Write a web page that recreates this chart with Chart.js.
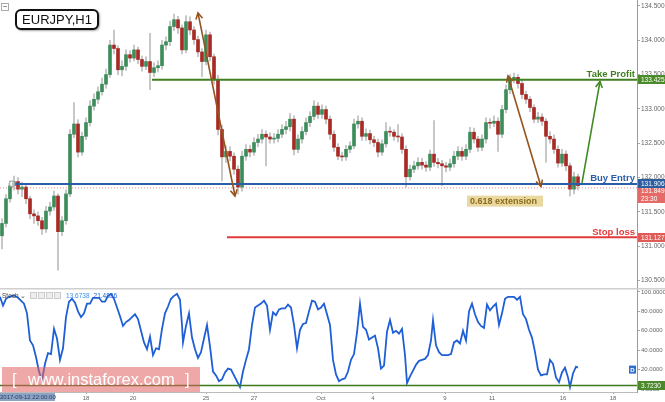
<!DOCTYPE html>
<html>
<head>
<meta charset="utf-8">
<script src="https://cdn.jsdelivr.net/npm/chart.js@4.4.1/dist/chart.umd.min.js"></script>
<style>
html, body { margin: 0; padding: 0; background: #fff; overflow: hidden; }
#wrap { position: relative; width: 665px; height: 402px; font-family: "Liberation Sans", Arial, sans-serif; }
canvas { position: absolute; left: 0; }
#priceCanvas { top: 0; }
#stochCanvas { top: 288px; }
.ov { position: absolute; white-space: nowrap; }
#collapse { left: 1px; top: 3px; width: 6px; height: 6px; border: 1px solid #aaa; }
#collapse:after { content: ""; position: absolute; left: 1px; top: 2px; width: 4px; height: 1px; background: #999; }
#title { left: 15px; top: 9px; width: 80px; height: 17px; border: 2px solid #111; border-radius: 6px; background: #fff;
         font-size: 13px; line-height: 17px; text-align: center; color: #111; box-shadow: 1px 1px 2px rgba(0,0,0,.35); }
#legend { left: 2px; top: 292px; font-size: 6.5px; line-height: 8px; color: #444; }
#legend .ic { display: inline-block; width: 5px; height: 5px; border: 1px solid #ccc; background: #eee; margin-right: 1px; vertical-align: -1px; }
#legend .v1 { color: #3b8fe8; margin-left: 4px; }
#legend .v2 { color: #1f5fd6; margin-left: 4px; }
#dateBox { left: 0; top: 393px; width: 55px; height: 8px; background: #8ea3c4; color: #25406b; font-size: 6px; line-height: 8px; text-align: center; }
#watermark { left: 2px; top: 367px; width: 198px; height: 25px; background: rgba(226, 96, 96, 0.55); color: #fff;
             font-size: 16.5px; line-height: 25px; }
#watermark span { position: absolute; top: 0; }
</style>
</head>
<body>
<div id="wrap">
  <canvas id="priceCanvas" width="665" height="288"></canvas>
  <canvas id="stochCanvas" width="665" height="114"></canvas>
  <div class="ov" id="collapse"></div>
  <div class="ov" id="title">EURJPY,H1</div>
  <div class="ov" id="legend">Stoch&nbsp;&#8964;&nbsp;&nbsp;<span class="ic"></span><span class="ic"></span><span class="ic"></span><span class="ic"></span><span class="v1">13.6738</span><span class="v2">21.4836</span></div>
  <div class="ov" id="dateBox">2017-09-12 22:00:00</div>
  <div class="ov" id="watermark"><span style="left:10px">[</span><span style="left:26px">www.instaforex.com</span><span style="left:183px">]</span></div>
</div>
<script>
// ---- data (EURJPY H1, compressed to 4-hour candles) ----
const BAR_HOURS = 4;
const START_OPEN = 131.15;
const closes = [
  131.33,131.69,131.88,131.94,131.83,131.86,131.69,131.47,131.44,131.37,
  131.25,131.51,131.57,131.73,131.21,131.37,131.76,132.63,132.78,132.37,
  132.60,132.80,133.04,133.14,133.25,133.36,133.50,133.93,133.88,133.57,
  133.62,133.79,133.74,133.86,133.72,133.62,133.69,133.53,133.60,133.63,
  133.93,133.98,134.20,134.30,134.18,133.86,134.27,134.15,134.01,133.83,
  133.69,134.08,133.76,133.43,132.70,132.30,132.38,132.31,132.12,131.86,
  132.31,132.41,132.37,132.51,132.56,132.63,132.59,132.56,132.57,132.63,
  132.70,132.74,132.85,132.41,132.56,132.67,132.80,132.89,133.04,132.92,
  132.99,132.85,132.63,132.44,132.31,132.30,132.41,132.46,132.78,132.82,
  132.60,132.64,132.55,132.51,132.37,132.49,132.67,132.66,132.60,132.59,
  132.41,132.01,132.12,132.17,132.22,132.18,132.15,132.34,132.22,132.20,
  132.17,132.15,132.20,132.31,132.38,132.31,132.41,132.66,132.56,132.44,
  132.56,132.80,132.79,132.82,132.63,132.99,133.28,133.43,133.46,133.37,
  133.21,133.14,133.02,132.85,132.88,132.82,132.60,132.56,132.41,132.21,
  132.34,132.17,131.83,132.01,131.88
];
const highs = [
  131.40,131.75,131.95,132.02,132.00,131.93,131.90,131.73,131.53,131.50,
  131.42,131.58,131.64,131.80,131.76,131.43,131.82,132.70,133.09,132.84,
  132.66,132.87,133.12,133.22,133.32,133.45,133.58,134.00,134.15,133.92,
  133.70,133.86,133.85,133.93,133.90,133.77,133.76,134.10,133.67,133.70,
  134.00,134.05,134.28,134.38,134.35,134.22,134.36,134.34,134.20,134.06,
  133.88,134.15,134.12,133.80,133.49,132.76,132.46,132.45,132.36,132.17,
  132.38,132.48,132.47,132.58,132.63,132.70,132.68,132.65,132.64,132.70,
  132.77,132.82,132.93,132.90,132.62,132.74,132.87,132.96,133.12,133.09,
  133.06,133.04,132.90,132.68,132.49,132.37,132.47,132.52,132.85,132.90,
  132.87,132.71,132.69,132.60,132.56,132.55,132.80,132.74,132.70,132.77,
  132.64,132.46,132.18,132.24,132.29,132.28,132.23,132.40,132.83,132.28,
  132.25,132.22,132.27,132.38,132.45,132.44,132.48,132.73,132.72,132.60,
  132.62,132.87,132.86,132.90,132.87,133.05,133.35,133.50,133.52,133.50,
  133.42,133.26,133.18,133.06,132.95,132.93,132.86,132.67,132.62,132.46,
  132.41,132.39,132.21,132.08,132.05
];
const lows = [
  130.96,131.28,131.64,131.82,131.76,131.72,131.62,131.40,131.33,131.30,
  131.17,131.20,131.45,131.52,130.65,131.15,131.32,131.72,132.58,132.30,
  132.32,132.55,132.75,132.98,133.08,133.20,133.30,133.46,133.80,133.50,
  133.48,133.56,133.68,133.70,133.66,133.55,133.57,133.28,133.47,133.54,
  133.58,133.86,133.92,134.14,134.10,133.80,133.82,134.08,133.94,133.76,
  133.47,133.64,133.70,133.36,132.62,131.95,132.22,132.24,132.05,131.76,
  131.80,132.25,132.30,132.32,132.45,132.50,132.17,132.50,132.50,132.52,
  132.58,132.64,132.68,132.33,132.36,132.50,132.62,132.74,132.84,132.86,
  132.86,132.78,132.56,132.38,132.26,132.24,132.25,132.36,132.42,132.72,
  132.54,132.54,132.49,132.45,132.30,132.32,132.44,132.60,132.54,132.52,
  132.35,131.86,131.96,132.07,132.12,132.12,132.09,132.10,132.16,132.14,
  131.88,132.08,132.10,132.15,132.26,132.25,132.26,132.36,132.50,132.38,
  132.39,132.50,132.72,132.74,132.38,132.58,132.94,133.22,133.38,133.30,
  133.15,133.08,132.96,132.80,132.80,132.76,132.22,132.50,132.35,132.15,
  132.16,132.10,131.73,131.76,131.82
];

// stochastic oscillator, sampled by trading hour
const stochHours = [0,3,6,9,12,15,18,21,24,27,30,33,36,39,42,45,48,51,54,57,60,63,66,69,72,75,78,81,84,87,90,93,96,99,102,105,108,111,114,117,120,123,126,129,132,135,138,141,144,147,150,153,156,159,162,165,168,171,174,177,180,182,183,186,189,192,195,198,201,204,207,210,213,216,219,222,225,228,231,234,237,240,243,246,249,252,255,258,261,264,267,270,273,276,279,282,285,288,291,294,297,300,303,306,309,312,315,318,321,324,327,330,333,336,339,342,345,348,351,354,357,360,363,366,369,372,375,378,381,384,387,390,393,396,399,402,405,407,410,413,416,419,422,425,428,431,433,436,439,442,445,448,451,454,457,460,463,466,469,472,475,478,481,484,487,490,493,496,499,502,505,508,511,514,517,520,523,526,529,532,535,538,541,544,547,550,553,556,559,562,565,568,570,573,576,578];
const stochValues = [95,86,93,95,96,96,94,91,88,78,50,45,33,18,9,26,37,36,62,52,30,42,74,90,93,89,80,74,78,88,88,94,94,94,90,90,96,98,93,84,75,65,69,71,74,77,72,60,48,41,54,35,42,41,62,78,85,93,96,98,92,66,48,65,78,53,41,32,38,52,66,44,18,14,8,10,17,21,20,14,8,2,18,30,41,66,84,86,88,91,86,61,79,76,82,83,83,87,84,66,42,61,67,68,80,91,90,82,84,88,77,66,30,15,8,10,11,18,30,36,58,88,64,61,51,53,55,42,21,24,59,71,58,60,57,62,35,6,13,19,25,29,30,31,35,50,71,45,38,35,35,35,36,48,50,47,60,50,80,88,77,69,65,63,87,81,85,88,66,78,93,95,95,95,92,95,77,72,61,53,38,20,14,15,15,30,26,12,7,17,22,12,2,16,23,22];

const levelLabels = ['Take Profit', 'Buy Entry', 'Stop loss'];
const levelPrices = [133.425, 131.906, 131.127];
const levelStartHours = [152, 12, 227];
const lastPrice = 131.849;
const barCountdown = '23:30';
const stochLevel = 3.723;

// arrows drawn on the chart (hour, price)
const arrowFrom = [[198, 134.40], [508, 133.48], [582, 131.92]];
const arrowTo   = [[235, 131.73], [541, 131.87], [600, 133.40]];

const priceTicks = [130.5, 131.0, 131.5, 132.0, 132.5, 133.0, 133.5, 134.0, 134.5];
const stochTicks = [0, 20, 40, 60, 80, 100];
const dateLabels = ['18', '20', '25', '27', 'Oct', '4', '9', '11', '16', '18'];
const dateHours  = [86, 133, 206, 254, 321, 373, 445, 492, 563, 613];

// ---- view settings ----
const X_MAX = 637;
const P_MAX = 134.587, P_MIN = 130.389;
const S_MAX = 104.1, S_MIN = -3.1;
const AXIS_W = 28;
const GREEN = '#3d8d5b', RED = '#a82a25', WICK = '#bdbdbd';
const LEVEL_COLORS = ['#3f7f1f', '#2b5ea8', '#e23b3b'];
const BOX_COLORS = ['#4b8a2a', '#2c5d9f', '#e05a56'];
const FONT = '"Liberation Sans", Arial, sans-serif';

Chart.defaults.font.family = FONT;

const opens = closes.map((c, i) => i === 0 ? START_OPEN : closes[i - 1]);
const barX = closes.map((c, i) => i * BAR_HOURS + BAR_HOURS / 2);

// keep the plot area flush with the canvas edges
function fitY(s) { s.width = AXIS_W; s.paddingTop = 0; s.paddingBottom = 0; }
function fitX(s) { s.height = 10; s.paddingLeft = 0; s.paddingRight = 0; }

function valueBox(ctx, x, yc, text, bg) {
    ctx.fillStyle = bg;
    ctx.fillRect(x, Math.round(yc - 4.5), 665 - x, 9);
    ctx.fillStyle = '#fff';
    ctx.font = '6.5px ' + FONT;
    ctx.textAlign = 'left';
    ctx.textBaseline = 'middle';
    ctx.fillText(text, x + 3, yc + 0.5);
}

function arrowHead(ctx, tip, from, color) {
    const ang = Math.atan2(tip.y - from.y, tip.x - from.x);
    ctx.save();
    ctx.strokeStyle = color;
    ctx.lineWidth = 1.6;
    ctx.beginPath();
    ctx.moveTo(tip.x - 7 * Math.cos(ang - 0.5), tip.y - 7 * Math.sin(ang - 0.5));
    ctx.lineTo(tip.x, tip.y);
    ctx.lineTo(tip.x - 7 * Math.cos(ang + 0.5), tip.y - 7 * Math.sin(ang + 0.5));
    ctx.stroke();
    ctx.restore();
}

const priceMarks = {
    id: 'priceMarks',
    afterDatasetsDraw(chart) {
        const ctx = chart.ctx, area = chart.chartArea, ys = chart.scales.y, xs = chart.scales.x;
        // arrow heads
        chart.data.datasets.forEach((ds, di) => {
            if (!ds.heads) return;
            const pts = chart.getDatasetMeta(di).data;
            if (ds.heads.includes('start')) arrowHead(ctx, pts[0], pts[1], ds.borderColor);
            if (ds.heads.includes('end')) arrowHead(ctx, pts[1], pts[0], ds.borderColor);
        });
        // level captions
        ctx.save();
        ctx.font = 'bold 9.5px ' + FONT;
        ctx.textAlign = 'right';
        ctx.textBaseline = 'alphabetic';
        levelLabels.forEach((t, i) => {
            ctx.fillStyle = LEVEL_COLORS[i];
            ctx.fillText(t, area.right - 2, ys.getPixelForValue(levelPrices[i]) - 2.5);
        });
        // 0.618 extension tag
        const ex = xs.getPixelForValue(467), ey = ys.getPixelForValue(131.655);
        ctx.fillStyle = '#e9d89f';
        ctx.fillRect(ex, ey - 5.5, 76, 11);
        ctx.fillStyle = '#8c6b1c';
        ctx.font = 'bold 9px ' + FONT;
        ctx.textAlign = 'left';
        ctx.textBaseline = 'middle';
        ctx.fillText('0.618 extension', ex + 3, ey + 0.5);
        ctx.restore();
    },
    afterDraw(chart) {
        const ctx = chart.ctx, area = chart.chartArea, ys = chart.scales.y;
        ctx.save();
        const bx = area.right + 1;
        const ly = ys.getPixelForValue(lastPrice);
        valueBox(ctx, bx, ly + 3, lastPrice.toFixed(3), '#e36a66');
        valueBox(ctx, bx, ly + 11, barCountdown, '#e36a66');
        levelPrices.forEach((p, i) => valueBox(ctx, bx, ys.getPixelForValue(p), p.toFixed(3), BOX_COLORS[i]));
        ctx.restore();
    }
};

const priceDatasets = [
    {
        type: 'bar', label: 'wicks',
        data: barX.map((x, i) => ({ x: x, y: [lows[i], highs[i]] })),
        backgroundColor: WICK, barThickness: 1, grouped: false, order: 20
    },
    {
        type: 'bar', label: 'bodies',
        data: barX.map((x, i) => ({ x: x, y: [opens[i], closes[i]] })),
        backgroundColor: closes.map((c, i) => c >= opens[i] ? GREEN : RED),
        barThickness: 3, minBarLength: 1, grouped: false, order: 19
    },
    {
        type: 'line', label: 'last',
        data: [{ x: 0, y: lastPrice }, { x: X_MAX, y: lastPrice }],
        borderColor: 'rgba(232,110,110,0.75)', borderWidth: 1, borderDash: [1, 2], pointRadius: 0, order: 15
    }
];
levelPrices.forEach((p, i) => priceDatasets.push({
    type: 'line', label: levelLabels[i],
    data: [{ x: levelStartHours[i], y: p }, { x: X_MAX, y: p }],
    borderColor: LEVEL_COLORS[i], borderWidth: 2,
    pointRadius: i === 1 ? [3, 0] : 0, pointBorderColor: '#a0a0a0', pointBorderWidth: 1,
    pointBackgroundColor: 'rgba(255,255,255,0.6)', order: 5
}));
arrowFrom.forEach((a, i) => priceDatasets.push({
    type: 'line', label: 'arrow' + i,
    data: [{ x: a[0], y: a[1] }, { x: arrowTo[i][0], y: arrowTo[i][1] }],
    borderColor: i === 2 ? '#3f8a22' : '#93541d', borderWidth: 1.6, pointRadius: 0,
    heads: i === 2 ? ['end'] : ['start', 'end'], order: 1
}));

new Chart(document.getElementById('priceCanvas'), {
    type: 'bar',
    data: { datasets: priceDatasets },
    options: {
        responsive: false, animation: false, events: [],
        layout: { padding: 0, autoPadding: false },
        plugins: { legend: { display: false }, tooltip: { enabled: false } },
        scales: {
            x: { type: 'linear', display: false, min: 0, max: X_MAX, offset: false },
            y: {
                type: 'linear', position: 'right', min: P_MIN, max: P_MAX,
                afterFit: fitY,
                afterBuildTicks: s => { s.ticks = priceTicks.map(v => ({ value: v })); },
                ticks: { callback: v => v.toFixed(3), font: { size: 6.5 }, color: '#666', padding: 1 },
                grid: { drawOnChartArea: false, tickLength: 3, color: '#aaa' },
                border: { color: '#999' }
            }
        }
    },
    plugins: [priceMarks]
});

// ---- stochastic panel ----
const stochMarks = {
    id: 'stochMarks',
    afterDraw(chart) {
        const ctx = chart.ctx, area = chart.chartArea, ys = chart.scales.y;
        ctx.save();
        ctx.fillStyle = '#cfcfcf';
        ctx.fillRect(0, 0, 665, 1.5);
        valueBox(ctx, area.right + 1, ys.getPixelForValue(stochLevel), stochLevel.toFixed(4), '#4b8a2a');
        const dy = ys.getPixelForValue(20);
        ctx.fillStyle = '#2f6fd0';
        ctx.fillRect(area.right - 8, dy - 4, 7, 8);
        ctx.fillStyle = '#fff';
        ctx.font = 'bold 6px ' + FONT;
        ctx.textAlign = 'center';
        ctx.textBaseline = 'middle';
        ctx.fillText('D', area.right - 4.5, dy + 0.5);
        ctx.restore();
    }
};

new Chart(document.getElementById('stochCanvas'), {
    type: 'line',
    data: {
        datasets: [
            {
                label: 'Stoch',
                data: stochHours.map((h, i) => ({ x: h, y: stochValues[i] })),
                borderColor: '#1f5fd6', borderWidth: 1.8, pointRadius: 0, tension: 0, order: 2
            },
            {
                label: 'level',
                data: [{ x: 0, y: stochLevel }, { x: X_MAX, y: stochLevel }],
                borderColor: '#3d7a1e', borderWidth: 1.5, pointRadius: 0, order: 1
            }
        ]
    },
    options: {
        responsive: false, animation: false, events: [],
        layout: { padding: 0, autoPadding: false },
        plugins: { legend: { display: false }, tooltip: { enabled: false } },
        scales: {
            x: {
                type: 'linear', min: 0, max: X_MAX, offset: false,
                afterFit: fitX,
                afterBuildTicks: s => { s.ticks = dateHours.map(v => ({ value: v })); },
                ticks: { callback: (v, i) => dateLabels[i], font: { size: 6 }, color: '#666', padding: 1, maxRotation: 0, autoSkip: false },
                grid: { drawOnChartArea: false, tickLength: 2, color: '#aaa' },
                border: { color: '#bbb' }
            },
            y: {
                type: 'linear', position: 'right', min: S_MIN, max: S_MAX,
                afterFit: fitY,
                afterBuildTicks: s => { s.ticks = stochTicks.map(v => ({ value: v })); },
                ticks: { callback: v => v.toFixed(4), font: { size: 6 }, color: '#666', padding: 1 },
                grid: { drawOnChartArea: false, tickLength: 3, color: '#aaa' },
                border: { color: '#999' }
            }
        }
    },
    plugins: [stochMarks]
});
</script>
</body>
</html>
